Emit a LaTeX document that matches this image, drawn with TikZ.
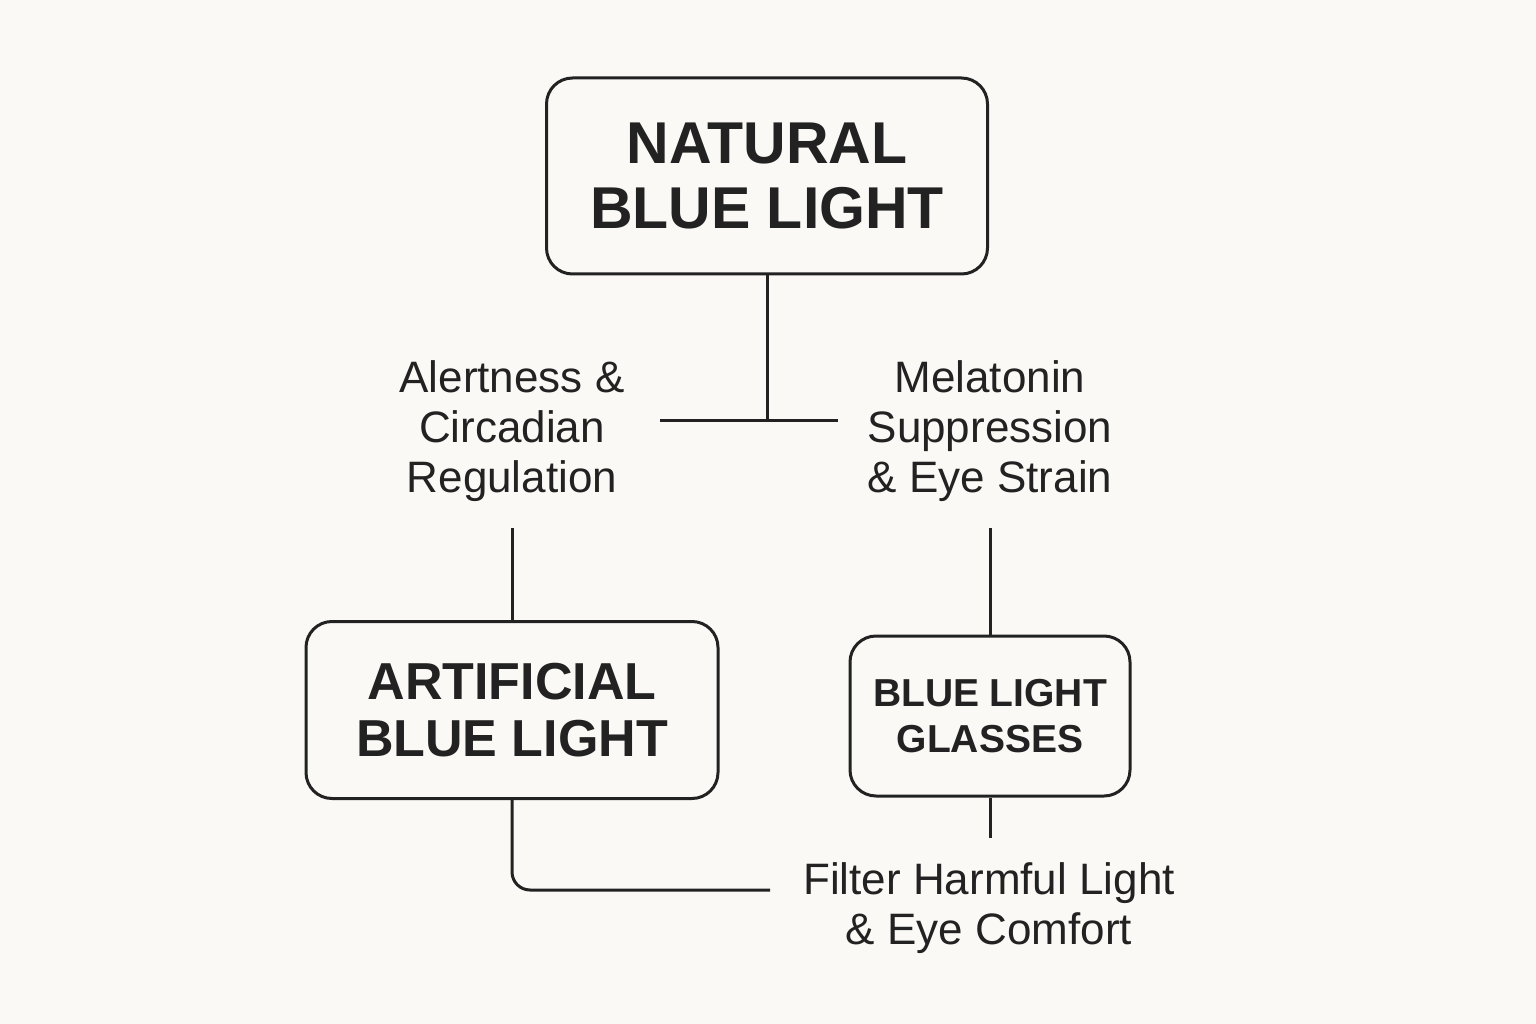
\documentclass[tikz,border=0pt]{standalone}
\usepackage{fontspec}
\setmainfont{Liberation Sans}
\usetikzlibrary{positioning}
\definecolor{ink}{HTML}{222222}
\definecolor{paper}{HTML}{FAF9F5}

\begin{document}
\begin{tikzpicture}[
    x=1pt, y=-1pt,
    box/.style={draw=ink, line width=3pt, rectangle, rounded corners=26pt, align=center, text=ink},
    link/.style={draw=ink, line width=3pt},
    label/.style={text=ink, align=center, font=\fontsize{44}{50}\selectfont} %regular text
]
\fill[paper] (0,0) rectangle (1536,1024);
\useasboundingbox (0,0) rectangle (1536,1024);

\node[box, minimum width=441pt, minimum height=196pt, font=\fontsize{59}{65}\selectfont\bfseries] (natural) at (767,176) {NATURAL\\BLUE LIGHT};
\node[box, minimum width=412pt, minimum height=177pt, font=\fontsize{52}{57}\selectfont\bfseries] (artificial) at (512,710) {ARTIFICIAL\\BLUE LIGHT};
\node[box, minimum width=280pt, minimum height=160pt, font=\fontsize{39}{46}\selectfont\bfseries] (glasses) at (990,716) {BLUE LIGHT\\GLASSES};

\node[label] (alert) at (512,431) {Alertness \&\\Circadian\\Regulation};
\node[label] (melatonin) at (990,431) {Melatonin\\Suppression\\\& Eye Strain};
\node[label] (filter) at (989,908) {Filter Harmful Light\\\& Eye Comfort};

\coordinate (split) at (767,420);
\coordinate (splitL) at (660,420);
\coordinate (splitR) at (838,420);
\coordinate (alertfoot) at (512,528);
\coordinate (melatoninfoot) at (990,528);
\coordinate (filtertop) at (990,838);
\coordinate (filterleft) at (770,890);

\draw[link] (natural) -- (split);
\draw[link] (splitL) -- (splitR);
\draw[link] (alertfoot) -- (artificial);
\draw[link] (melatoninfoot) -- (glasses);
\draw[link] (glasses) -- (filtertop);
\draw[link, rounded corners=18pt] (artificial) |- (filterleft);

\end{tikzpicture}
\end{document}
